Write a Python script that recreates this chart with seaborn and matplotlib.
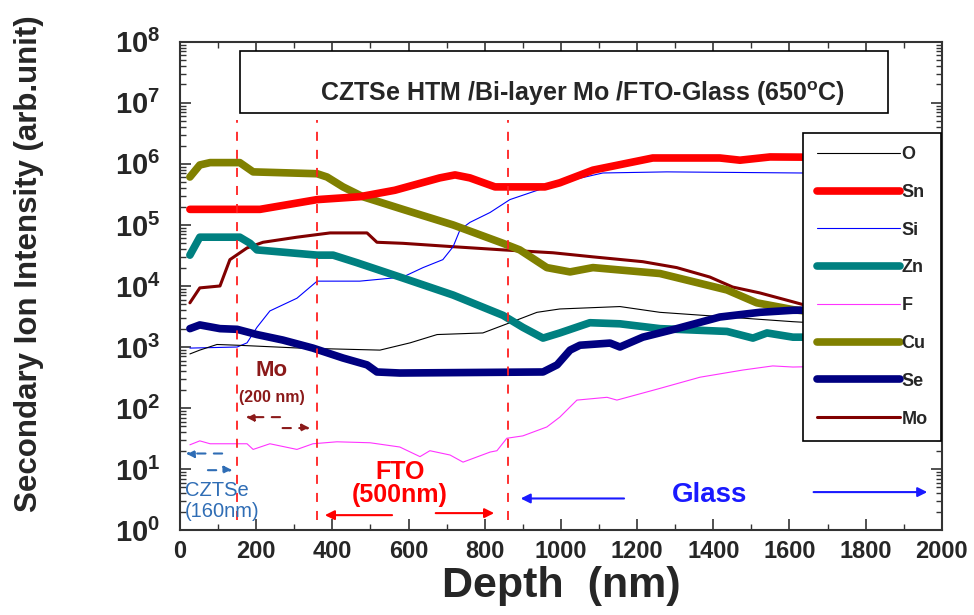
import numpy as np
import pandas as pd
import seaborn as sns
import matplotlib
matplotlib.use("Agg")
import matplotlib.pyplot as plt
from matplotlib.patches import Rectangle
from matplotlib.lines import Line2D
from matplotlib.ticker import FuncFormatter, LogLocator, MultipleLocator

# --- data (depth in nm, intensity in arb. unit) ---
o_depth = [26, 52, 97, 150, 315, 525, 604, 675, 795, 866, 937, 997, 1155, 1260, 1436, 1609, 2000]
o_int = [770, 890, 1100, 1070, 960, 890, 1170, 1600, 1700, 2500, 3700, 4200, 4600, 3700, 3100, 2600, 1900]

sn_depth = [26, 210, 360, 472, 564, 682, 722, 761, 827, 958, 997, 1084, 1241, 1417, 1470, 1549, 2000]
sn_int = [1.8e5, 1.8e5, 2.6e5, 2.9e5, 3.7e5, 5.9e5, 6.6e5, 5.9e5, 4.2e5, 4.2e5, 4.9e5, 7.9e5,
          1.25e6, 1.25e6, 1.15e6, 1.3e6, 1.25e6]

si_depth = [26, 150, 176, 202, 236, 307, 360, 472, 585, 638, 690, 717, 735, 761, 814, 866, 927,
            997, 1110, 1278, 1627, 2000]
si_int = [960, 1000, 1170, 2100, 3900, 6300, 1.2e4, 1.2e4, 1.4e4, 2.0e4, 2.7e4, 4.4e4, 8.3e4,
          1.1e5, 1.6e5, 2.6e5, 3.5e5, 4.9e5, 7.1e5, 7.4e5, 7.1e5, 7.1e5]

zn_depth = [26, 52, 157, 184, 202, 360, 402, 465, 585, 717, 848, 900, 953, 997, 1076, 1155, 1260,
            1436, 1504, 1541, 1609, 2000]
zn_int = [3.2e4, 6.3e4, 6.3e4, 5.0e4, 3.9e4, 3.2e4, 3.2e4, 2.4e4, 1.35e4, 7.1e3, 3.3e3, 2.1e3,
          1.4e3, 1.7e3, 2.5e3, 2.4e3, 2.0e3, 1.8e3, 1.4e3, 1.7e3, 1.45e3, 1.45e3]

f_depth = [26, 52, 79, 176, 192, 236, 307, 349, 412, 499, 577, 630, 656, 709, 743, 814, 832, 858,
           900, 963, 997, 1042, 1121, 1147, 1260, 1365, 1478, 1556, 1609, 2000]
f_int = [25, 29, 26, 26, 21, 26, 21, 26, 28, 27, 23, 16, 20, 17, 13, 19, 20, 32,
         35, 49, 71, 135, 150, 135, 210, 320, 420, 490, 470, 530]

cu_depth = [26, 52, 79, 157, 192, 360, 386, 428, 480, 585, 717, 848, 892, 963, 1024, 1084, 1260,
            1436, 1514, 1609, 2000]
cu_int = [6.1e5, 9.6e5, 1.05e6, 1.05e6, 7.4e5, 6.9e5, 6.1e5, 4.2e5, 2.9e5, 1.8e5, 1.0e5, 5.0e4,
          3.9e4, 2.0e4, 1.7e4, 2.0e4, 1.6e4, 8.6e3, 5.3e3, 4.1e3, 2.1e3]

se_depth = [26, 52, 105, 150, 202, 270, 349, 428, 491, 517, 577, 953, 990, 1024, 1050, 1129, 1155,
            1215, 1304, 1417, 1522, 1609, 2000]
se_int = [2.0e3, 2.3e3, 2.0e3, 1.95e3, 1.6e3, 1.3e3, 960, 660, 510, 390, 375, 390, 510, 890,
          1.07e3, 1.16e3, 1.0e3, 1.45e3, 2.0e3, 3.1e3, 3.7e3, 4.0e3, 4.2e3]

mo_depth = [26, 52, 105, 131, 176, 218, 307, 394, 491, 517, 585, 717, 848, 979, 1084, 1215, 1304,
            1391, 1451, 1522, 1609, 1955, 2000]
mo_int = [5.3e3, 9.3e3, 1.0e4, 2.7e4, 4.2e4, 5.2e4, 6.3e4, 7.4e4, 7.4e4, 5.2e4, 5.0e4, 4.4e4,
          3.9e4, 3.5e4, 3.0e4, 2.5e4, 2.0e4, 1.4e4, 9.6e3, 7.7e3, 5.5e3, 1.4e3, 960]

elements = ["O", "Sn", "Si", "Zn", "F", "Cu", "Se", "Mo"]
series = {
    "O": (o_depth, o_int), "Sn": (sn_depth, sn_int), "Si": (si_depth, si_int),
    "Zn": (zn_depth, zn_int), "F": (f_depth, f_int), "Cu": (cu_depth, cu_int),
    "Se": (se_depth, se_int), "Mo": (mo_depth, mo_int),
}
colors = {"O": "#000000", "Sn": "#ff0000", "Si": "#0000ff", "Zn": "#008080",
          "F": "#ff33ff", "Cu": "#808000", "Se": "#000080", "Mo": "#800000"}
widths = {"O": 0.8, "Sn": 5.5, "Si": 0.8, "Zn": 5.5, "F": 0.8, "Cu": 5.5, "Se": 5.5, "Mo": 2.2}

layer_bounds = [150, 360, 860]

sns.set_style("ticks")
plt.rcParams["font.family"] = ["Liberation Sans", "DejaVu Sans"]
plt.rcParams["mathtext.fontset"] = "custom"
plt.rcParams["mathtext.rm"] = "Liberation Sans"
plt.rcParams["mathtext.bf"] = "Liberation Sans:bold"

fig = plt.figure(figsize=(9.74, 6.15), dpi=100)
ax = fig.add_axes([0.1848, 0.138, 0.7822, 0.794])

draw_order = ["Mo", "Si", "O", "F", "Cu", "Zn", "Sn", "Se"]
for el in draw_order:
    d, v = series[el]
    sns.lineplot(x=d, y=v, ax=ax, color=colors[el], linewidth=widths[el],
                 solid_capstyle="round", legend=False)

ax.set_yscale("log")
ax.set_xlim(0, 2000)
ax.set_ylim(1, 1e8)

ax.xaxis.set_major_locator(MultipleLocator(200))
ax.xaxis.set_minor_locator(MultipleLocator(100))
ax.yaxis.set_major_locator(LogLocator(base=10, numticks=20))
ax.yaxis.set_minor_locator(LogLocator(base=10, subs=np.arange(2, 10), numticks=20))
ax.yaxis.set_major_formatter(FuncFormatter(lambda v, p: r"$\mathbf{10^{%d}}$" % round(np.log10(v))))
ax.tick_params(which="both", direction="in", top=True, right=True, color="#333333")
ax.tick_params(which="major", length=8, width=1.2)
ax.tick_params(which="minor", length=4, width=1.0)
ax.tick_params(axis="y", labelsize=21, pad=14)
ax.tick_params(axis="x", pad=7)
for lab in ax.get_xticklabels():
    lab.set_family(["Liberation Sans Narrow", "Liberation Sans"])
    lab.set_fontweight("bold")
    lab.set_fontsize(17)
for sp in ax.spines.values():
    sp.set_linewidth(1.5)
    sp.set_color("#333333")

ax.set_xlabel("Depth  (nm)", fontsize=31, fontweight="bold", labelpad=2)
ax.set_ylabel("Secondary Ion Intensity (arb.unit)", fontsize=22.5, fontweight="bold")
ax.yaxis.set_label_coords(-0.178, 0.545)

# layer boundaries
for b in layer_bounds:
    ax.axvline(b, ymin=0.02, ymax=0.84, color="#ff2020", linestyle=(0, (5, 5)), linewidth=1.3)

# title box
ax.add_patch(Rectangle((0.079, 0.855), 0.85, 0.127, transform=ax.transAxes,
                       facecolor="white", edgecolor="black", linewidth=1.2, zorder=5))
ax.text(0.528, 0.893, r"CZTSe HTM /Bi-layer Mo /FTO-Glass (650$^{\mathbf{o}}$C)",
        transform=ax.transAxes, ha="center", va="center", fontsize=18,
        fontweight="bold", zorder=6)

# layer annotations
mo_c = "#8b1a1a"
ax.text(241, 420, "Mo", color=mo_c, fontsize=16, fontweight="bold", ha="center", va="center")
ax.text(241, 150, "(200 nm)", color=mo_c, fontsize=11.5, fontweight="bold", ha="center", va="center")
dash_arrow = dict(arrowstyle="-|>", lw=1.5, linestyle=(0, (4, 4)), mutation_scale=12)
ax.annotate("", xy=(165, 71), xytext=(270, 71), arrowprops=dict(color=mo_c, **dash_arrow))
ax.annotate("", xy=(349, 47), xytext=(262, 47), arrowprops=dict(color=mo_c, **dash_arrow))

cz_c = "#2f6db5"
ax.text(13, 4.5, "CZTSe", color=cz_c, fontsize=14.5, ha="left", va="center")
ax.text(13, 2.05, "(160nm)", color=cz_c, fontsize=14.5, ha="left", va="center")
ax.annotate("", xy=(8, 18), xytext=(118, 18), arrowprops=dict(color=cz_c, **dash_arrow))
ax.annotate("", xy=(145, 9.6), xytext=(66, 9.6), arrowprops=dict(color=cz_c, **dash_arrow))

ax.text(577, 8.9, "FTO", color="#ff0000", fontsize=18, fontweight="bold", ha="center", va="center")
ax.text(577, 3.7, "(500nm)", color="#ff0000", fontsize=18, fontweight="bold", ha="center", va="center")
solid_arrow = dict(arrowstyle="-|>", lw=1.5, mutation_scale=14)
ax.annotate("", xy=(373, 1.76), xytext=(564, 1.76), arrowprops=dict(color="#ff0000", **solid_arrow))
ax.annotate("", xy=(832, 1.9), xytext=(664, 1.9), arrowprops=dict(color="#ff0000", **solid_arrow))

gl_c = "#1a1aff"
ax.text(1391, 3.7, "Glass", color=gl_c, fontsize=20, fontweight="bold", ha="center", va="center")
ax.annotate("", xy=(887, 3.3), xytext=(1173, 3.3), arrowprops=dict(color=gl_c, **solid_arrow))
ax.annotate("", xy=(1969, 4.2), xytext=(1656, 4.2), arrowprops=dict(color=gl_c, **solid_arrow))

# legend
handles = [Line2D([0], [0], color=colors[el], linewidth=widths[el], solid_capstyle="round")
           for el in elements]
leg = ax.legend(handles, elements, loc="upper left", bbox_to_anchor=(0.818, 0.814),
                handlelength=4.6, handletextpad=0.1, labelspacing=1.15, borderpad=0.75,
                borderaxespad=0, frameon=True, fancybox=False, framealpha=1,
                edgecolor="black", prop={"size": 13, "weight": "bold"})
leg.get_frame().set_linewidth(1.2)
leg.set_zorder(10)

fig.savefig("out.png", dpi=100, facecolor="white")
